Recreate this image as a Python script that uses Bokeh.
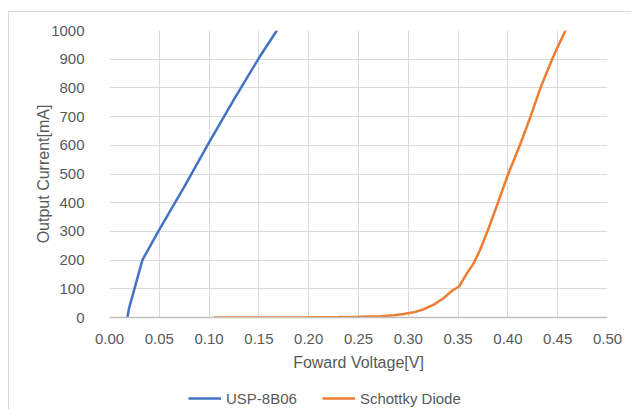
from bokeh.plotting import figure
from bokeh.layouts import column
from bokeh.models import (FixedTicker, NumeralTickFormatter, Range1d, Legend,
                          LegendItem)
from bokeh.embed import file_html
from bokeh.resources import INLINE

# Data
usp_v = [0.018, 0.0195, 0.033, 0.049, 0.075, 0.100, 0.125, 0.150, 0.168]
usp_i = [0, 30, 200, 300, 455, 610, 760, 904, 1000]

sch_v = [0.105, 0.15, 0.20, 0.23, 0.25, 0.272, 0.2855, 0.2955, 0.3055, 0.315,
         0.3256, 0.335, 0.344, 0.351, 0.359, 0.365, 0.372, 0.380, 0.390,
         0.4003, 0.412, 0.4227, 0.4327, 0.4444, 0.451, 0.4578]
sch_i = [0, 0.3, 1, 2, 3, 4.5, 8, 12, 18, 28, 45, 66, 93, 108, 155, 185, 235,
         305, 400, 500, 600, 700, 800, 900, 950, 1000]

x_ticks = [0.0, 0.05, 0.10, 0.15, 0.20, 0.25, 0.30, 0.35, 0.40, 0.45, 0.50]
y_ticks = [0, 100, 200, 300, 400, 500, 600, 700, 800, 900, 1000]

series_names = ["USP-8B06", "Schottky Diode"]
series_colors = ["#4472C4", "#ED7D31"]

FONT = "Liberation Sans"
TXT = "#595959"
GRID = "#d9d9d9"

p = figure(width=622, height=361, output_backend="svg", toolbar_location=None,
           x_range=Range1d(0, 0.5), y_range=Range1d(0, 1000),
           min_border_left=100, min_border_right=24, min_border_top=18,
           min_border_bottom=55)
p.outline_line_color = None
p.background_fill_color = "white"
p.border_fill_color = "white"

r1 = p.line(usp_v, usp_i, line_color=series_colors[0], line_width=2.5)
r2 = p.line(sch_v, sch_i, line_color=series_colors[1], line_width=2.5)

# Axes
p.xaxis.ticker = FixedTicker(ticks=x_ticks)
p.yaxis.ticker = FixedTicker(ticks=y_ticks)
p.xaxis.formatter = NumeralTickFormatter(format="0.00")
p.yaxis.formatter = NumeralTickFormatter(format="0")
for ax in (p.xaxis, p.yaxis):
    ax.major_tick_line_color = None
    ax.minor_tick_line_color = None
    ax.major_label_text_font = FONT
    ax.major_label_text_font_size = "15px"
    ax.major_label_text_color = TXT
    ax.axis_label_text_font = FONT
    ax.axis_label_text_font_size = "16px"
    ax.axis_label_text_font_style = "normal"
    ax.axis_label_text_color = TXT
p.xaxis.axis_line_color = "#bfbfbf"
p.xaxis.axis_line_width = 1.5
p.yaxis.axis_line_color = None
p.xaxis.major_label_standoff = 10
p.yaxis.major_label_standoff = 19
p.xaxis.axis_label = "Foward Voltage[V]"
p.yaxis.axis_label = "Output Current[mA]"
p.xaxis.axis_label_standoff = 7
p.yaxis.axis_label_standoff = -4

p.xgrid.ticker = FixedTicker(ticks=x_ticks)
p.ygrid.ticker = FixedTicker(ticks=y_ticks)
for g in (p.xgrid, p.ygrid):
    g.grid_line_color = GRID
    g.grid_line_width = 1

# Legend strip below the chart (its lines use the same data but lie outside
# this strip's ranges, so only the legend swatches are visible)
q = figure(width=622, height=36, output_backend="svg", toolbar_location=None,
           x_range=Range1d(5, 6), y_range=Range1d(5000, 6000),
           x_axis_location=None, y_axis_location=None,
           min_border_left=0, min_border_right=0, min_border_top=0,
           min_border_bottom=0)
q.outline_line_color = None
q.xgrid.visible = False
q.ygrid.visible = False
k1 = q.line(usp_v, usp_i, line_color=series_colors[0], line_width=2.5)
k2 = q.line(sch_v, sch_i, line_color=series_colors[1], line_width=2.5)
legend = Legend(items=[LegendItem(label=series_names[0], renderers=[k1]),
                       LegendItem(label=series_names[1], renderers=[k2])],
                orientation="horizontal", location=(79, 1),
                glyph_width=33, glyph_height=20, label_standoff=5, spacing=25,
                padding=0, margin=0, border_line_color=None,
                background_fill_alpha=0,
                label_text_font=FONT, label_text_font_size="15px",
                label_text_color=TXT)
q.add_layout(legend, "center")

layout = column(p, q, spacing=0,
                styles={"margin-left": "8px", "margin-top": "11px",
                        "border-left": "1px solid #d9d9d9",
                        "border-top": "1px solid #d9d9d9"})

open("out.html", "w").write(file_html(layout, INLINE))
